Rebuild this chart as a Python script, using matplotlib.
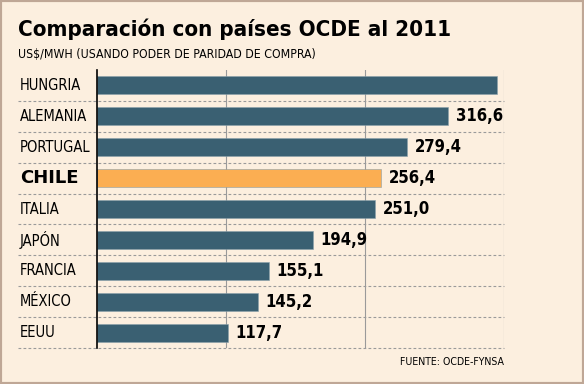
import matplotlib
matplotlib.use("Agg")
import matplotlib.pyplot as plt
from matplotlib.patches import Rectangle

# data (top to bottom)
countries = ["HUNGRIA", "ALEMANIA", "PORTUGAL", "CHILE", "ITALIA",
             "JAPÓN", "FRANCIA", "MÉXICO", "EEUU"]
values = [361.0, 316.6, 279.4, 256.4, 251.0, 194.9, 155.1, 145.2, 117.7]
value_labels = ["", "316,6", "279,4", "256,4", "251,0",
                "194,9", "155,1", "145,2", "117,7"]
highlight = "CHILE"
grid_x = [116, 242, 367]

BG = "#fcefdf"
BAR = "#3a6072"
HI = "#fbae52"
FONT = "DejaVu Sans"

fig = plt.figure(figsize=(5.84, 3.84), dpi=100, facecolor=BG)
W, H = 584, 384
ax = fig.add_axes([97 / W, (H - 348) / H, 407 / W, 278 / H])
ax.set_facecolor(BG)

ypos = list(range(len(countries)))
colors = [HI if c == highlight else BAR for c in countries]
ax.barh(ypos, values, height=0.58, color=colors, edgecolor="#8aa0aa",
        linewidth=0.4, zorder=3)

xmax = 367
ax.set_xlim(0, xmax)
ax.set_ylim(len(countries) - 0.5, -0.5)

# vertical grid lines
for gx in grid_x:
    ax.axvline(gx, color="#9a9a9a", lw=0.8, zorder=1)

# dashed row separators reaching into the label area
trans = ax.get_yaxis_transform()
for i in range(len(countries)):
    ax.plot([-79 / 407, 1.0], [i + 0.5, i + 0.5], transform=trans,
            color="#9a9a9a", lw=0.8, ls=(0, (2.5, 2)), clip_on=False, zorder=2)

for s in ("top", "right", "bottom"):
    ax.spines[s].set_visible(False)
ax.spines["left"].set_color("black")
ax.spines["left"].set_linewidth(1.2)
ax.spines["left"].set_zorder(4)
ax.set_xticks([])
ax.set_yticks([])

# category labels
for y, c in zip(ypos, countries):
    if c == highlight:
        ax.text(-77 / 407, y, c, transform=trans, ha="left", va="center",
                fontsize=13, fontweight="bold", family=FONT)
    else:
        ax.text(-77 / 407, y, c, transform=trans, ha="left", va="center",
                fontsize=10.5, family=FONT, fontstretch="condensed")

# value labels
for y, v, lab in zip(ypos, values, value_labels):
    if lab:
        ax.annotate(lab, (v, y), xytext=(5.5, 0), textcoords="offset points",
                    ha="left", va="center", fontsize=12, fontweight="bold",
                    family=FONT, fontstretch="condensed")

fig.text(18 / W, 1 - 29 / H, "Comparación con países OCDE al 2011",
         fontsize=16, fontweight="bold", family=FONT, fontstretch="condensed",
         ha="left", va="center")
fig.text(18 / W, 1 - 55 / H, "US$/MWH (USANDO PODER DE PARIDAD DE COMPRA)",
         fontsize=8.8, family=FONT, fontstretch="condensed",
         ha="left", va="center")
fig.text(504 / W, 1 - 362 / H, "FUENTE: OCDE-FYNSA", fontsize=7.6,
         family=FONT, fontstretch="condensed", ha="right", va="center")

fig.patches.append(Rectangle((0, 0), 1, 1, transform=fig.transFigure,
                             fill=False, edgecolor="#bfa796", lw=3))

fig.savefig("out.png", dpi=100, facecolor=BG)
